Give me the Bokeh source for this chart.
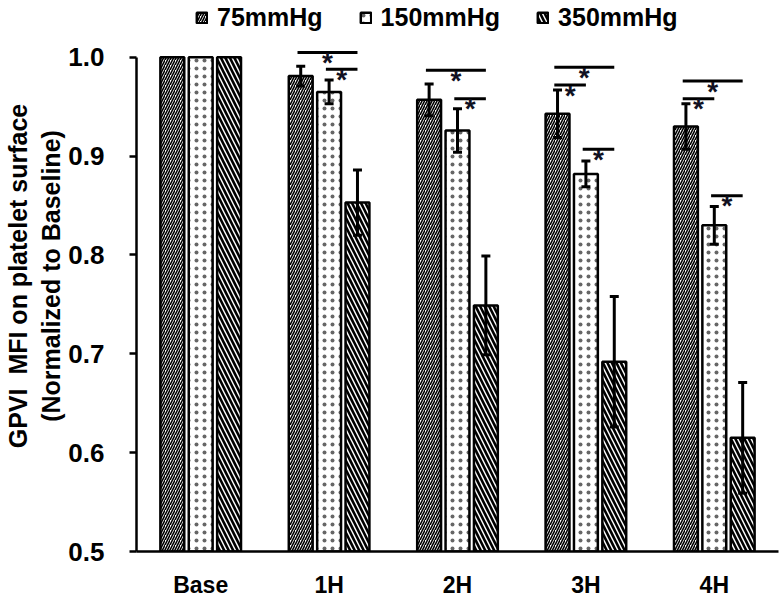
from bokeh.plotting import figure
from bokeh.models import (Range1d, FixedTicker, NumeralTickFormatter, ColumnDataSource,
                          Whisker, Legend, LegendItem, TeeHead)
from bokeh.core.properties import value
from bokeh.embed import file_html
from bokeh.resources import INLINE

categories = ["Base", "1H", "2H", "3H", "4H"]
series_names = ["75mmHg", "150mmHg", "350mmHg"]
values_75 = [1.0, 0.981, 0.957, 0.943, 0.930]
values_150 = [1.0, 0.965, 0.926, 0.882, 0.830]
values_350 = [1.0, 0.853, 0.749, 0.692, 0.615]
err_75 = [0.0, 0.010, 0.016, 0.024, 0.023]
err_150 = [0.0, 0.012, 0.022, 0.013, 0.019]
err_350 = [0.0, 0.033, 0.050, 0.066, 0.056]
y_ticks = [0.5, 0.6, 0.7, 0.8, 0.9, 1.0]

# significance brackets: category index, left series, right series, level
sig_cat = [1, 1, 2, 2, 3, 3, 3, 4, 4, 4]
sig_from = [0, 1, 0, 1, 0, 0, 1, 0, 0, 1]
sig_to = [2, 2, 2, 2, 2, 1, 2, 2, 1, 2]
sig_y = [1.005, 0.988, 0.987, 0.958, 0.990, 0.972, 0.907, 0.976, 0.958, 0.860]

FONT = "Liberation Sans"
W, H = 779, 600
offsets = [-0.221, 0.0, 0.221]
bar_w = 0.186

p = figure(width=W, height=H, output_backend="svg", toolbar_location=None,
           x_range=Range1d(0, 5.0), y_range=Range1d(0.5, 1.0575),
           min_border_left=132, min_border_right=1, min_border_top=0,
           min_border_bottom=47)
p.outline_line_color = None
p.xgrid.grid_line_color = None
p.ygrid.grid_line_color = None
p.background_fill_color = "white"
p.border_fill_color = "white"

values = [values_75, values_150, values_350]
errs = [err_75, err_150, err_350]
hatch = [dict(hatch_pattern="/", hatch_scale=5, hatch_weight=1.6, hatch_color="black"),
         dict(hatch_pattern=".", hatch_scale=8, hatch_weight=0.3, hatch_color="#666666"),
         dict(hatch_pattern="\\", hatch_scale=9, hatch_weight=2.6, hatch_color="black")]

renderers = []
for i in range(3):
    xs = [k + 0.5 + offsets[i] for k in range(len(categories))]
    src = ColumnDataSource(dict(x=xs, top=values[i]))
    r = p.vbar(x="x", top="top", bottom=0.5, width=bar_w, source=src,
               fill_color="white", line_color="black", line_width=2.5,
               **hatch[i])
    renderers.append(r)
    ex = [x for x, e in zip(xs, errs[i]) if e > 0]
    ev = [v for v, e in zip(values[i], errs[i]) if e > 0]
    ee = [e for e in errs[i] if e > 0]
    wsrc = ColumnDataSource(dict(base=ex, upper=[v + e for v, e in zip(ev, ee)],
                                 lower=[v - e for v, e in zip(ev, ee)]))
    w = Whisker(base="base", upper="upper", lower="lower", source=wsrc,
                line_width=3, line_color="black", level="overlay",
                upper_head=TeeHead(size=9, line_width=3, line_color="black"),
                lower_head=TeeHead(size=9, line_width=3, line_color="black"))
    p.add_layout(w)

# significance lines and stars
x0 = [c + 0.5 + offsets[a] - 0.025 for c, a in zip(sig_cat, sig_from)]
x1 = [c + 0.5 + offsets[b] for c, b in zip(sig_cat, sig_to)]
sig_src = ColumnDataSource(dict(x0=x0, x1=x1, y=sig_y,
                                xm=[(a + b) / 2 for a, b in zip(x0, x1)],
                                t=["*"] * len(sig_y)))
p.segment(x0="x0", y0="y", x1="x1", y1="y", source=sig_src, line_width=3,
          line_color="black")
p.text(x="xm", y="y", text="t", source=sig_src, text_align="center",
       text_baseline="alphabetic", y_offset=10, text_font=value(FONT),
       text_font_style="bold", text_font_size="28px", text_color="#111122")

# axes
p.xaxis.ticker = FixedTicker(ticks=[k + 0.5 for k in range(len(categories))])
p.xaxis.major_label_overrides = {k + 0.5: c for k, c in enumerate(categories)}
p.xaxis.major_tick_out = 0
p.xaxis.major_tick_in = 0
p.xaxis.minor_tick_line_color = None
p.xaxis.axis_line_width = 2.5
p.xaxis.major_label_text_font = FONT
p.xaxis.major_label_text_font_style = "bold"
p.xaxis.major_label_text_font_size = "23px"
p.xaxis.major_label_text_color = "black"
p.xaxis.major_label_standoff = 20

p.yaxis.ticker = FixedTicker(ticks=y_ticks)
p.yaxis.bounds = (0.5, 1.0)
p.yaxis.formatter = NumeralTickFormatter(format="0.0")
p.yaxis.major_tick_out = 7
p.yaxis.major_tick_in = 0
p.yaxis.minor_tick_line_color = None
p.yaxis.axis_line_width = 2.5
p.yaxis.major_tick_line_width = 2.5
p.yaxis.major_label_text_font = FONT
p.yaxis.major_label_text_font_style = "bold"
p.yaxis.major_label_text_font_size = "26px"
p.yaxis.major_label_text_color = "black"
p.yaxis.major_label_standoff = 25
p.yaxis.axis_label = "GPVI\u00a0 MFI on platelet surface\n(Normalized to Baseline)"
p.yaxis.axis_label_text_font = FONT
p.yaxis.axis_label_text_font_style = "bold"
p.yaxis.axis_label_text_font_size = "25px"
p.yaxis.axis_label_text_color = "black"
p.yaxis.axis_label_standoff = 0

legend = Legend(items=[LegendItem(label=n, renderers=[r]) for n, r in zip(series_names, renderers)],
                orientation="horizontal", location=(59, 519),
                border_line_color=None, background_fill_alpha=0,
                padding=0, margin=0, spacing=36, label_standoff=9,
                glyph_width=13, glyph_height=13,
                label_text_font=FONT, label_text_font_style="bold",
                label_text_font_size="25px", label_text_color="black")
p.add_layout(legend)

open("out.html", "w").write(file_html(p, INLINE))
